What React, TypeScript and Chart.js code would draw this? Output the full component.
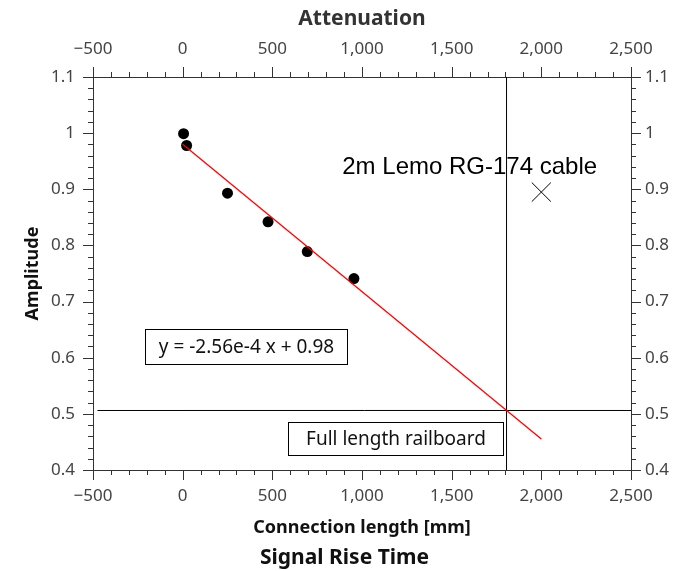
import React, { useEffect, useRef } from 'react';
import { Chart, registerables } from 'chart.js';

Chart.register(...registerables);

// ---- data ----
const lengthsMm = [5, 22, 250, 476, 695, 955];
const amplitudes = [0.999, 0.978, 0.893, 0.842, 0.789, 0.741];

const fitX = [0, 2000];
const fitY = [0.98, 0.455];

const railboardLevel = 0.506;
const railboardLevelX = [-475, 2500];
const railboardLengthMm = 1806;
const railboardLengthY = [0.4, 1.1];

const cableX = [2000];
const cableY = [0.895];

const xTickValues = [-500, 0, 500, 1000, 1500, 2000, 2500];
const yTickValues = [0.4, 0.5, 0.6, 0.7, 0.8, 0.9, 1.0, 1.1];

const titleTop = 'Attenuation';
const titleBottom = 'Signal Rise Time';
const xTitle = 'Connection length [mm]';
const yTitle = 'Amplitude';
const equationText = 'y = -2.56e-4 x + 0.98';
const railboardText = 'Full length railboard';
const cableText = '2m Lemo RG-174 cable';

// ---- styling ----
const FONT = '"Noto Sans", "Open Sans", sans-serif';
const AXIS_COLOR = '#333333';
const TICK_TEXT = '#444444';

const fmtX = (v: number) => (v < 0 ? '\u2212' : '') + Math.abs(v).toLocaleString('en-US');
const fmtY = (v: number) => String(Number(v.toFixed(1)));

const tickPlugin = {
  id: 'customTicks',
  afterDraw(chart: any) {
    const ctx = chart.ctx;
    const area = chart.chartArea;
    ctx.save();
    ctx.strokeStyle = AXIS_COLOR;
    ctx.lineWidth = 1;
    const draw = (id: string, step: number) => {
      const s = chart.scales[id];
      const majors = s.ticks.map((t: any) => t.value);
      const n = Math.round((s.max - s.min) / step);
      for (let i = 0; i <= n; i++) {
        const v = s.min + i * step;
        const major = majors.some((m: number) => Math.abs(m - v) < step / 10);
        const len = major ? 10 : 5;
        const p = Math.round(s.getPixelForValue(v)) + 0.5;
        ctx.beginPath();
        if (id === 'x') {
          ctx.moveTo(p, area.bottom);
          ctx.lineTo(p, area.bottom + len);
        } else if (id === 'x2') {
          ctx.moveTo(p, area.top);
          ctx.lineTo(p, area.top - len);
        } else if (id === 'y') {
          ctx.moveTo(area.left, p);
          ctx.lineTo(area.left - len, p);
        } else {
          ctx.moveTo(area.right, p);
          ctx.lineTo(area.right + len, p);
        }
        ctx.stroke();
      }
    };
    draw('x', 100);
    draw('x2', 100);
    draw('y', 0.02);
    draw('y2', 0.02);
    ctx.restore();
  },
};

const annotationPlugin = {
  id: 'annotations',
  afterDatasetsDraw(chart: any) {
    const ctx = chart.ctx;
    const xs = chart.scales.x;
    const ys = chart.scales.y;
    ctx.save();
    const box = (x0: number, x1: number, y0: number, y1: number, text: string) => {
      const l = Math.round(xs.getPixelForValue(x0)) + 0.5;
      const r = Math.round(xs.getPixelForValue(x1)) + 0.5;
      const t = Math.round(ys.getPixelForValue(y0)) + 0.5;
      const b = Math.round(ys.getPixelForValue(y1)) + 0.5;
      ctx.fillStyle = '#ffffff';
      ctx.fillRect(l, t, r - l, b - t);
      ctx.strokeStyle = '#000000';
      ctx.lineWidth = 1;
      ctx.strokeRect(l, t, r - l, b - t);
      ctx.fillStyle = '#111111';
      ctx.font = `19px ${FONT}`;
      ctx.textAlign = 'center';
      ctx.textBaseline = 'middle';
      ctx.fillText(text, (l + r) / 2, (t + b) / 2 + 1);
    };
    box(-208, 917, 0.651, 0.589, equationText);
    box(588, 1785, 0.486, 0.427, railboardText);

    ctx.fillStyle = '#000000';
    ctx.font = '24px "Liberation Sans", Arial, sans-serif';
    ctx.textAlign = 'left';
    ctx.textBaseline = 'alphabetic';
    ctx.fillText(cableText, xs.getPixelForValue(890), ys.getPixelForValue(0.927));
    ctx.restore();
  },
};

export default function App() {
  const ref = useRef<HTMLCanvasElement>(null);
  useEffect(() => {
    document.body.style.margin = '0';
    const canvas = ref.current!;
    const tickFont = { family: FONT, size: 17 };
    const xCommon = (position: 'top' | 'bottom') => ({
      type: 'linear' as const,
      position,
      min: -500,
      max: 2500,
      afterBuildTicks: (s: any) => {
        s.ticks = xTickValues.map((v) => ({ value: v }));
      },
      ticks: {
        callback: (v: any) => fmtX(Number(v)),
        font: tickFont,
        color: TICK_TEXT,
        padding: position === 'top' ? 8 : 6,
        maxRotation: 0,
        autoSkip: false,
      },
      grid: { display: true, drawOnChartArea: false, tickLength: 10, tickColor: 'rgba(0,0,0,0)' },
      border: { display: true, color: AXIS_COLOR, width: 1 },
    });
    const yCommon = (position: 'left' | 'right') => ({
      type: 'linear' as const,
      position,
      min: 0.4,
      max: 1.1,
      afterBuildTicks: (s: any) => {
        s.ticks = yTickValues.map((v) => ({ value: v }));
      },
      ticks: {
        callback: (v: any) => fmtY(Number(v)),
        font: tickFont,
        color: TICK_TEXT,
        padding: position === 'left' ? 8 : 4,
        autoSkip: false,
      },
      grid: { display: true, drawOnChartArea: false, tickLength: 10, tickColor: 'rgba(0,0,0,0)' },
      border: { display: true, color: AXIS_COLOR, width: 1 },
    });

    const chart = new Chart(canvas, {
      type: 'scatter',
      data: {
        datasets: [
          {
            label: 'fit',
            data: fitX.map((x, i) => ({ x, y: fitY[i] })),
            showLine: true,
            borderColor: '#ff0000',
            borderWidth: 1.3,
            pointRadius: 0,
          },
          {
            label: 'measured',
            data: lengthsMm.map((x, i) => ({ x, y: amplitudes[i] })),
            backgroundColor: '#000000',
            borderWidth: 0,
            pointRadius: 5.5,
          },
          {
            label: 'railboard level',
            data: railboardLevelX.map((x) => ({ x, y: railboardLevel })),
            showLine: true,
            borderColor: '#000000',
            borderWidth: 1,
            pointRadius: 0,
          },
          {
            label: 'railboard length',
            data: railboardLengthY.map((y) => ({ x: railboardLengthMm, y })),
            showLine: true,
            borderColor: '#000000',
            borderWidth: 1,
            pointRadius: 0,
          },
          {
            label: 'cable',
            data: cableX.map((x, i) => ({ x, y: cableY[i] })),
            pointStyle: 'crossRot',
            pointRadius: 13.5,
            borderColor: '#000000',
            borderWidth: 1,
          },
        ],
      },
      options: {
        animation: false,
        responsive: false,
        devicePixelRatio: 1,
        layout: { padding: 0 },
        plugins: {
          legend: { display: false },
          tooltip: { enabled: false },
          title: {
            display: true,
            text: titleBottom,
            position: 'bottom',
            color: '#111111',
            font: { family: FONT, size: 21, weight: 'bold' },
            padding: { top: 6, bottom: 0 },
          },
        },
        scales: {
          x: {
            ...xCommon('bottom'),
            title: {
              display: true,
              text: xTitle,
              color: '#111111',
              font: { family: FONT, size: 18, weight: 'bold' },
              padding: { top: 0, bottom: 1 },
            },
            afterFit: (s: any) => {
              s.height = 69.8;
            },
          },
          x2: {
            ...xCommon('top'),
            title: {
              display: true,
              text: titleTop,
              color: '#333333',
              font: { family: FONT, size: 21, weight: 'bold' },
              padding: { top: 6.5, bottom: 0 },
            },
            afterFit: (s: any) => {
              s.height = 77;
            },
          },
          y: {
            ...yCommon('left'),
            title: {
              display: true,
              text: yTitle,
              color: '#111111',
              font: { family: FONT, size: 18, weight: 'bold' },
              padding: { top: 22, bottom: 0 },
            },
            afterFit: (s: any) => {
              s.width = 93;
            },
          },
          y2: {
            ...yCommon('right'),
            afterFit: (s: any) => {
              s.width = 58;
            },
          },
        },
      },
      plugins: [tickPlugin, annotationPlugin],
    } as any);
    return () => chart.destroy();
  }, []);
  return (
    <div style={{ width: 689, height: 571 }}>
      <canvas ref={ref} width={689} height={571} style={{ display: 'block' }} />
    </div>
  );
}
